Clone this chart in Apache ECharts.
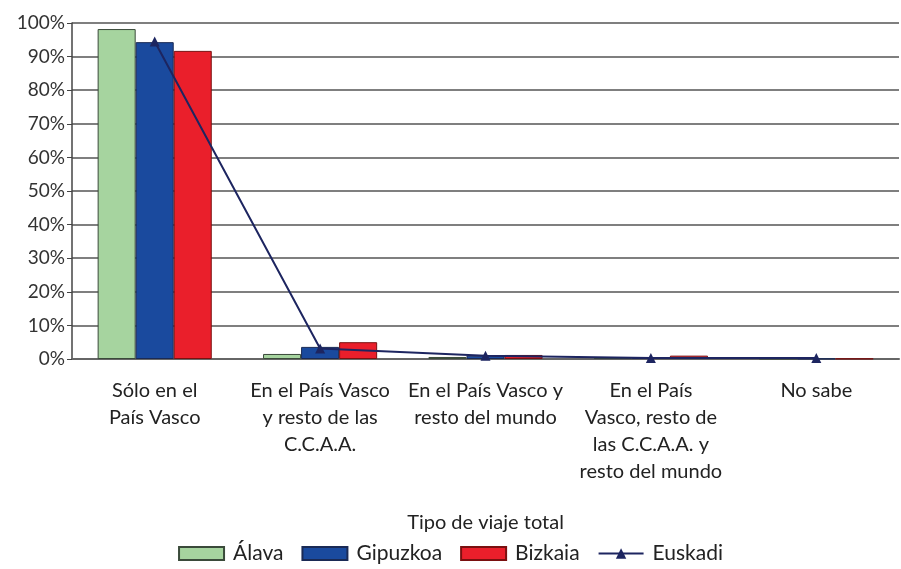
<!DOCTYPE html>
<html>
<head>
<meta charset="utf-8">
<script src="https://cdn.jsdelivr.net/npm/echarts@6/dist/echarts.min.js"></script>
<style>
  html, body { margin: 0; padding: 0; background: #fff; }
  #chart { width: 901px; height: 569px; }
</style>
</head>
<body>
<div id="chart"></div>
<script>
// categorias del eje x
const categories = [
  'Sólo en el\nPaís Vasco',
  'En el País Vasco\ny resto de las\nC.C.A.A.',
  'En el País Vasco y\nresto del mundo',
  'En el País\nVasco, resto de\nlas C.C.A.A. y\nresto del mundo',
  'No sabe'
]
const alava = [98.2, 1.5, 0.6, 0.3, 0.1]
const gipuzkoa = [94.3, 3.6, 1.0, 0.3, 0.1]
const bizkaia = [91.7, 5.0, 1.2, 1.0, 0.1]
const euskadi = [94.5, 3.1, 1.0, 0.3, 0.3]

const font = 'Lato'
const chart = echarts.init(document.getElementById('chart'))

chart.setOption({
  animation: false,
  textStyle: { fontFamily: font },
  grid: { left: 72, right: 2, top: 23, bottom: 210 },
  legend: {
    bottom: 0,
    left: 'center',
    itemWidth: 45,
    itemHeight: 13,
    itemGap: 18,
    textStyle: { fontFamily: font, fontSize: 21, color: '#222', padding: [0, 0, 0, 4] },
    data: [
      { name: 'Álava', icon: 'rect' },
      { name: 'Gipuzkoa', icon: 'rect' },
      { name: 'Bizkaia', icon: 'rect' },
      { name: 'Euskadi' }
    ]
  },
  xAxis: {
    type: 'category',
    data: categories,
    name: 'Tipo de viaje total',
    nameLocation: 'middle',
    nameGap: 154,
    nameTextStyle: { fontFamily: font, fontSize: 20, color: '#222' },
    axisTick: { show: false },
    axisLine: { lineStyle: { color: '#666', width: 2 } },
    axisLabel: {
      interval: 0,
      fontSize: 20,
      lineHeight: 27,
      color: '#222',
      margin: 18
    }
  },
  yAxis: {
    type: 'value',
    min: 0,
    max: 100,
    interval: 10,
    axisLine: { show: true, lineStyle: { color: '#444', width: 1.5 } },
    axisTick: { show: true, length: 5, lineStyle: { color: '#444' } },
    axisLabel: { formatter: '{value}%', fontSize: 19, color: '#333', margin: 7 },
    splitLine: { lineStyle: { color: '#555', width: 1.5 } }
  },
  series: [{
    name: 'Álava',
    type: 'bar',
    data: alava,
    barGap: '0%',
    barCategoryGap: '31%',
    itemStyle: { color: '#a6d49f', borderColor: '#3a4a3a', borderWidth: 1 }
  }, {
    name: 'Gipuzkoa',
    type: 'bar',
    data: gipuzkoa,
    itemStyle: { color: '#1a4a9e', borderColor: '#1a2a55', borderWidth: 1 }
  }, {
    name: 'Bizkaia',
    type: 'bar',
    data: bizkaia,
    itemStyle: { color: '#ea1f2b', borderColor: '#7a1010', borderWidth: 1 }
  }, {
    name: 'Euskadi',
    type: 'line',
    data: euskadi,
    symbol: 'triangle',
    symbolSize: 10,
    lineStyle: { color: '#1d2560', width: 2 },
    itemStyle: { color: '#1d2560' }
  }]
})
</script>
</body>
</html>
